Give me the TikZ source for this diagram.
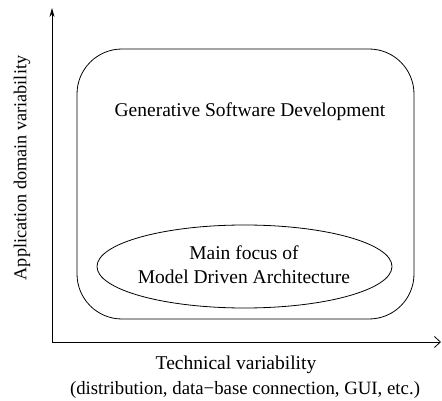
\documentclass[tikz,border=0pt]{standalone}
\usepackage{fontspec}
\setmainfont{Liberation Serif}
\usetikzlibrary{arrows.meta,shapes.geometric}
\begin{document}
\begin{tikzpicture}[x=1pt,y=-1pt,
  axis/.style={line width=0.8pt},
  lbl/.style={font=\fontsize{19.5}{23}\selectfont, inner sep=0pt, align=center}]
\useasboundingbox (0,0) rectangle (442,401);
\coordinate (o) at (52,342);
\coordinate (ytop) at (52,8);
\coordinate (xend) at (441,342);
\draw[axis,-{Stealth[length=9pt,width=5pt]}] (o) -- (ytop);
\draw[axis,-{Straight Barb[length=6pt,width=11pt]}] (o) -- (xend);
\node[draw, line width=0.8pt, rounded corners=45pt, minimum width=337pt, minimum height=270pt, inner sep=0pt] (gsd) at (245.5,184) {};
\node[lbl] (gsdt) at (250,112) {Generative Software Development};
\node[draw, ellipse, line width=0.8pt, minimum width=295pt, minimum height=83pt, inner sep=0pt] (mda) at (244.5,266.5) {};
\node[lbl] (mdat) at (244,265) {Main focus of\\[1pt]Model Driven Architecture};
\node[lbl, font=\fontsize{18.2}{22}\selectfont, rotate=90] (ylab) at (22,168) {Application domain variability};
\node[lbl, font=\fontsize{19.5}{23}\selectfont, anchor=base] (xlab1) at (236,369) {Technical variability};
\node[lbl, font=\fontsize{18.8}{23}\selectfont, anchor=base] (xlab2) at (245,394) {(distribution, data−base connection, GUI, etc.)};
\end{tikzpicture}
\end{document}
